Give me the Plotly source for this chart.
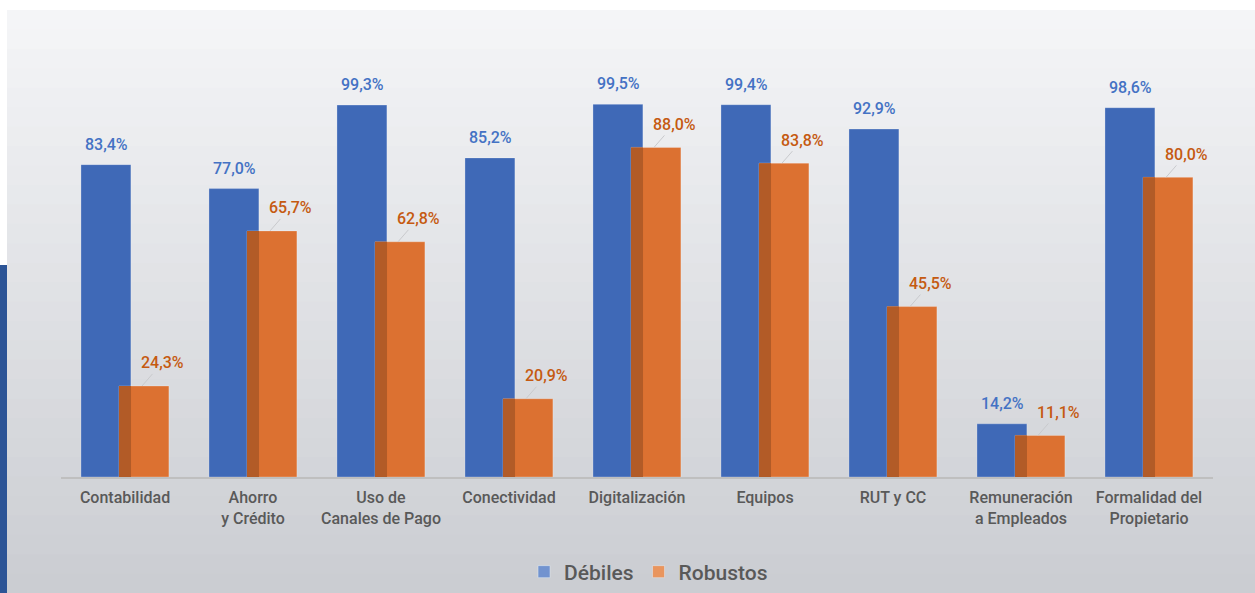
import plotly.graph_objects as go

categorias = ["Contabilidad", "Ahorro<br>y Crédito", "Uso de<br>Canales de Pago", "Conectividad",
              "Digitalización", "Equipos", "RUT y CC", "Remuneración<br>a Empleados",
              "Formalidad del<br>Propietario"]
debiles = [83.4, 77.0, 99.3, 85.2, 99.5, 99.4, 92.9, 14.2, 98.6]
robustos = [24.3, 65.7, 62.8, 20.9, 88.0, 83.8, 45.5, 11.1, 80.0]

W, H = 1255, 593
M_L, M_R, M_T, M_B = 61, 42, 65, 116


def px_x(px):
    return (px - M_L) / (W - M_L - M_R)


def px_y(py):
    return (H - M_B - py) / (H - M_T - M_B)


def pct(v):
    return f"{v:.1f}".replace(".", ",") + "%"


fig = go.Figure()
fig.add_trace(go.Bar(x=categorias, y=debiles, name="Débiles", showlegend=False,
                     offset=-0.344, width=0.39,
                     marker=dict(color="#3F69B7", line=dict(color="rgba(255,255,255,0.25)", width=1))))
fig.add_trace(go.Bar(x=categorias, y=robustos, name="Robustos", showlegend=False,
                     offset=-0.047, width=0.39,
                     marker=dict(color="#DC7131", line=dict(color="rgba(255,255,255,0.25)", width=1))))
# darker zone where the orange bar sits over the blue one
fig.add_trace(go.Bar(x=categorias, y=robustos, showlegend=False, hoverinfo="skip",
                     offset=-0.047, width=0.094,
                     marker=dict(color="#B25B27", line=dict(width=0))))
# legend keys (lighter, like the original)
fig.add_trace(go.Bar(x=[categorias[0]], y=[None], name="Débiles", marker_color="#7293CF"))
fig.add_trace(go.Bar(x=[categorias[0]], y=[None], name="Robustos", marker_color="#E9955E"))

for cat, v in zip(categorias, debiles):
    fig.add_annotation(x=cat, y=v, xshift=-19, yshift=9, yanchor="bottom",
                       text=pct(v), showarrow=False,
                       font=dict(family="Roboto", size=16, color="#4472C4", weight=500))

for cat, v in zip(categorias, robustos):
    fig.add_annotation(x=cat, y=v, xshift=17, text=pct(v),
                       showarrow=True, arrowhead=0, arrowwidth=1, arrowcolor="#c9cacd",
                       ax=20, ay=-23, standoff=0,
                       font=dict(family="Roboto", size=16, color="#C55A11", weight=500))

# panel background (vertical gradient) and left accent strip
n = 30
top, bot = (244, 245, 247), (203, 205, 210)
y0, y1 = 10, H
for i in range(n):
    t = i / (n - 1)
    c = tuple(round(top[k] + (bot[k] - top[k]) * t) for k in range(3))
    fig.add_shape(type="rect", xref="paper", yref="paper", layer="below",
                  x0=px_x(7), x1=px_x(W + 2),
                  y0=px_y(y0 + (y1 - y0) * (i + 1) / n + 1), y1=px_y(y0 + (y1 - y0) * i / n),
                  fillcolor="rgb(%d,%d,%d)" % c, line=dict(width=0))
fig.add_shape(type="rect", xref="paper", yref="paper", layer="below",
              x0=px_x(-2), x1=px_x(7), y0=px_y(H + 2), y1=px_y(265),
              fillcolor="#2C5496", line=dict(width=0))

fig.update_layout(
    width=W, height=H,
    barmode="overlay",
    paper_bgcolor="white", plot_bgcolor="rgba(0,0,0,0)",
    margin=dict(l=M_L, r=M_R, t=M_T, b=M_B, autoexpand=False),
    font=dict(family="Roboto", color="#595959"),
    showlegend=True,
    legend=dict(orientation="h", x=0.51, xanchor="center", y=px_y(572), yanchor="middle",
                font=dict(size=21, color="#595959", weight=500), bgcolor="rgba(0,0,0,0)",
                itemwidth=30, traceorder="normal"),
    xaxis=dict(showline=True, linecolor="#bfbfbf", linewidth=2, ticks="", ticklabelstandoff=5,
               tickfont=dict(size=16, color="#595959", weight=500), showgrid=False, fixedrange=True),
    yaxis=dict(range=[0, 110], visible=False, showgrid=False, zeroline=False),
)
fig.write_html("out.html", config={"displayModeBar": False},
               post_script="document.body.style.margin='0';")
